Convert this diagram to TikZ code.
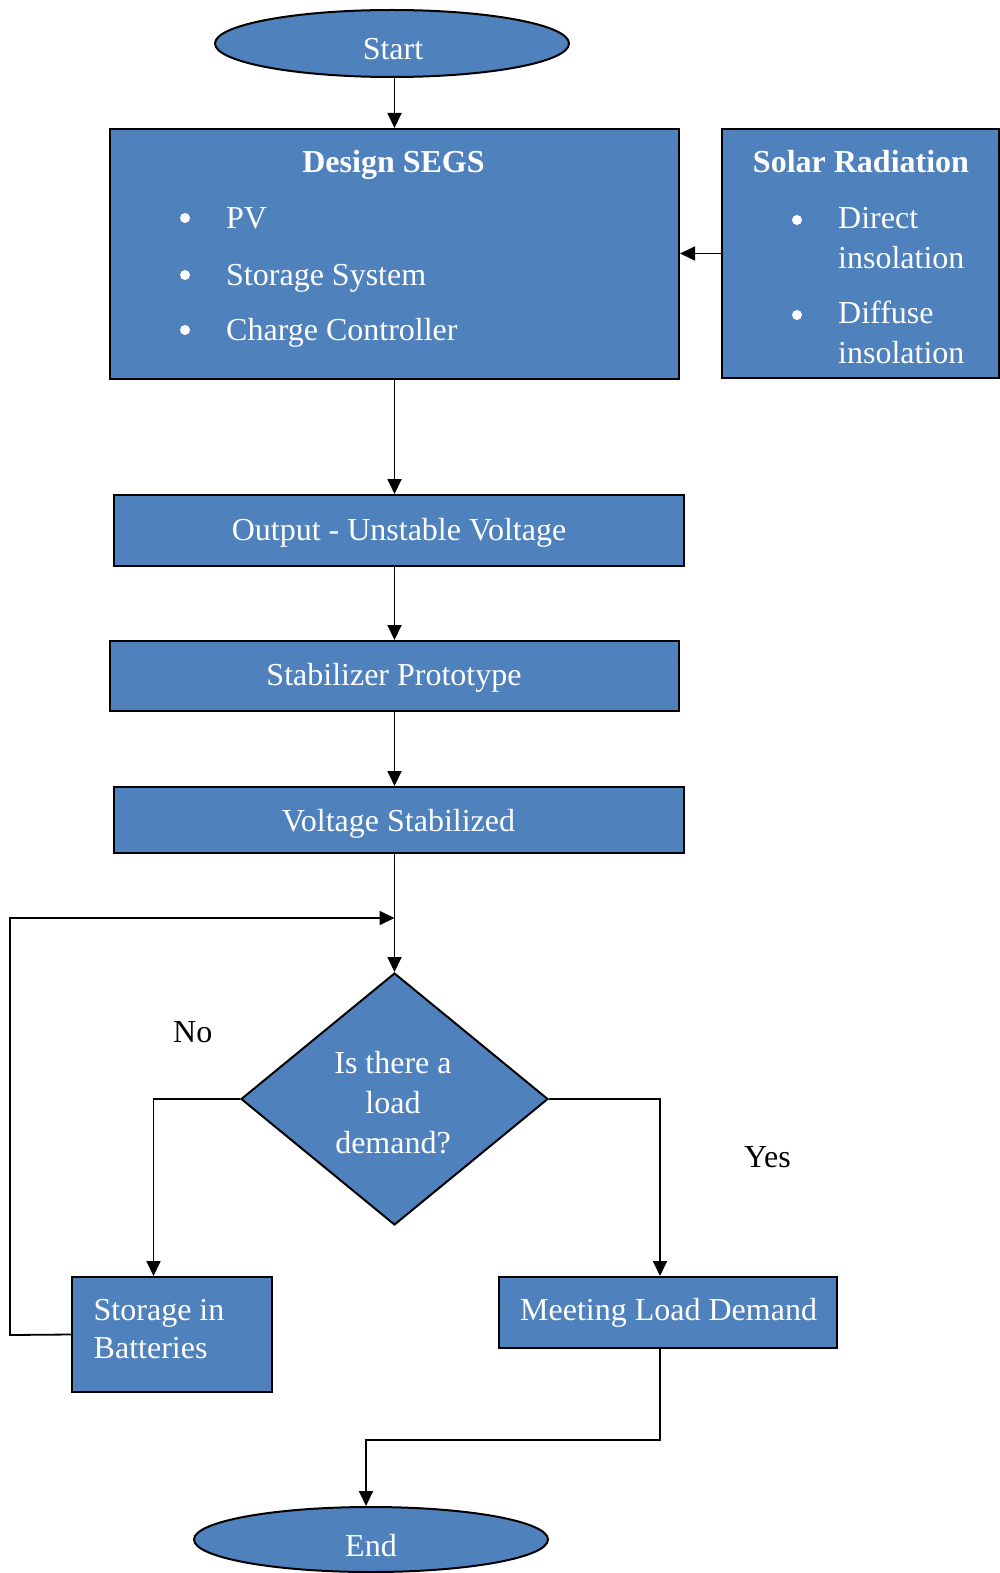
\documentclass[tikz,border=0pt]{standalone}
\usepackage{fontspec}
\setmainfont{Liberation Serif}
\usetikzlibrary{shapes.geometric,arrows.meta}
\definecolor{boxblue}{HTML}{4F81BD}
\begin{document}
\begin{tikzpicture}[x=1pt,y=-1pt,
  shp/.style={draw=black, line width=2pt, fill=boxblue, inner sep=0pt},
  box/.style={shp, rectangle},
  ell/.style={shp, ellipse},
  txt/.style={text=white, font=\fontsize{32}{40}\selectfont, inner sep=0pt},
  btxt/.style={txt, font=\fontsize{32}{40}\selectfont\bfseries},
  lbl/.style={text=black, font=\fontsize{32}{40}\selectfont, inner sep=0pt},
  arr/.style={line width=1.8pt, -{Triangle[length=15pt,width=14pt]}},
  ln/.style={line width=1.8pt}]
\useasboundingbox (0,0) rectangle (1000,1573);

% shapes
\node[ell, minimum width=354pt, minimum height=67pt] (start) at (392,43.5) {};
\node[box, minimum width=569pt, minimum height=250pt] (design) at (394.5,254) {};
\node[box, minimum width=277pt, minimum height=249pt] (solar) at (860.5,253.5) {};
\node[box, minimum width=570pt, minimum height=71pt] (out) at (399,530.5) {};
\node[box, minimum width=569pt, minimum height=70pt] (stab) at (394.5,676) {};
\node[box, minimum width=570pt, minimum height=66pt] (volt) at (399,820) {};
\node[shp, diamond, minimum width=307pt, minimum height=252pt] (dec) at (394.5,1099) {};
\node[box, minimum width=200pt, minimum height=115pt] (stor) at (172,1334.5) {};
\node[box, minimum width=338pt, minimum height=71pt] (meet) at (668,1312.5) {};
\node[ell, minimum width=354pt, minimum height=65pt] (end) at (371,1539.5) {};

% texts
\node[txt, anchor=base] (tstart) at (393,60) {Start};
\node[btxt, anchor=base] (tdesign) at (393.5,173) {Design SEGS};
\node[txt, anchor=base west] (tpv) at (226,228) {PV};
\node[txt, anchor=base west] (tss) at (226,285) {Storage System};
\node[txt, anchor=base west] (tcc) at (226,340) {Charge Controller};
\fill[white] (185,218) circle[radius=5pt];
\fill[white] (185,275) circle[radius=5pt];
\fill[white] (185,330) circle[radius=5pt];

\node[btxt, anchor=base] (tsolar) at (861,173) {Solar Radiation};
\node[txt, anchor=base west] (td1) at (838,228) {Direct};
\node[txt, anchor=base west] (td2) at (838,268) {insolation};
\node[txt, anchor=base west] (tf1) at (838,323) {Diffuse};
\node[txt, anchor=base west] (tf2) at (838,363) {insolation};
\fill[white] (797,220) circle[radius=5pt];
\fill[white] (797,315) circle[radius=5pt];

\node[txt, anchor=base] (tout) at (399,540) {Output - Unstable Voltage};
\node[txt, anchor=base] (tstab) at (394,685) {Stabilizer Prototype};
\node[txt, anchor=base] (tvolt) at (398.5,831) {Voltage Stabilized};
\node[txt, anchor=base] (tq1) at (393,1073) {Is there a};
\node[txt, anchor=base] (tq2) at (393,1113) {load};
\node[txt, anchor=base] (tq3) at (393,1153) {demand?};
\node[txt, anchor=base west] (tst1) at (93.5,1320) {Storage in};
\node[txt, anchor=base west] (tst2) at (93.5,1358) {Batteries};
\node[txt, anchor=base west] (tmeet) at (520,1320) {Meeting Load Demand};
\node[txt, anchor=base] (tend) at (371,1556) {End};

\node[lbl, anchor=base west] (no) at (173,1042) {No};
\node[lbl, anchor=base west] (yes) at (744,1167) {Yes};

% connectors
\coordinate (loop) at (394.5,918);
\coordinate (nox) at (153.5,0);
\coordinate (yesx) at (660,0);
\coordinate (mid) at (366,1440);

\draw[arr] (design.north |- start.south) -- (design.north);
\draw[arr] (solar.west) -- (design.east |- solar.west);
\draw[arr] (design.south) -- (design.south |- out.north);
\draw[arr] (design.south |- out.south) -- (design.south |- stab.north);
\draw[arr] (stab.south) -- (stab.south |- volt.north);
\draw[arr] (stab.south |- volt.south) -- (dec.north);
\draw[arr] (stor.west) -- (10,1335) -- (10,918) -- (loop);
\draw[arr] (dec.west) -| (nox |- stor.north);
\draw[arr] (dec.east) -| (yesx |- meet.north);
\draw[arr] (yesx |- meet.south) |- (mid) -- (mid |- end.north);
\end{tikzpicture}
\end{document}
